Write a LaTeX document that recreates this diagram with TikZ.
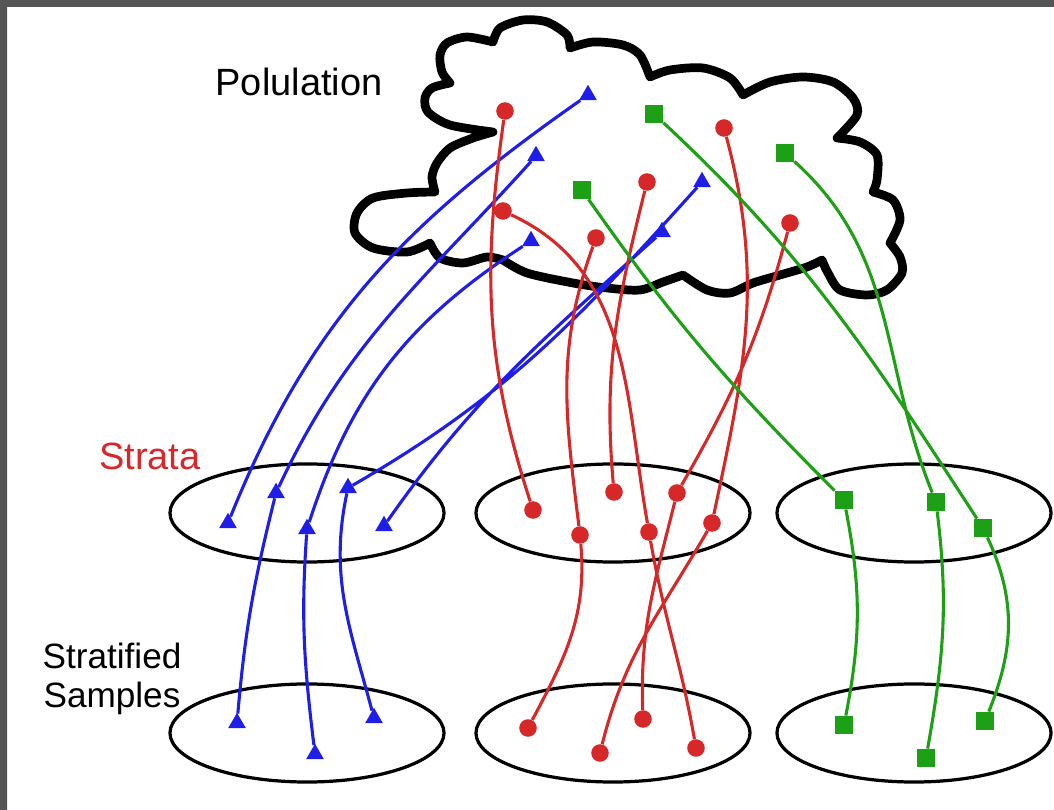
\documentclass[tikz,border=0pt]{standalone}
\usepackage{fontspec}
\setmainfont{Liberation Sans}
\usetikzlibrary{shapes.geometric}
\definecolor{tblue}{RGB}{30,30,232}
\definecolor{tred}{RGB}{214,40,40}
\definecolor{tgreen}{RGB}{30,160,22}
\definecolor{frame}{RGB}{85,85,85}
\begin{document}
\begin{tikzpicture}[x=0.025cm,y=0.025cm,font=\fontsize{27}{24}\selectfont,
		tri/.style={regular polygon,regular polygon sides=3,fill=tblue,inner sep=0pt,minimum size=14.5pt},
		dot/.style={circle,fill=tred,inner sep=0pt,minimum size=12.5pt},
		sq/.style={rectangle,fill=tgreen,inner sep=0pt,minimum size=13pt},
		bl/.style={tblue,line width=2.2pt},
		rl/.style={tred,line width=2.2pt},
		gl/.style={tgreen,line width=2.2pt},
		group/.style={ellipse,draw,line width=2.3pt,inner sep=0pt,minimum width=6.85cm,minimum height=2.45cm}]
		\useasboundingbox (0,0) rectangle (1054,810);
		\fill[frame] (0,803) rectangle (1054,810) (0,0) rectangle (7,810);
		\draw[line width=6.2pt,line join=round]
		plot[smooth] coordinates {(493,678) (450,685) (428,698) (425,712) (432,722) (450,727)}
		-- plot[smooth] coordinates {(450,727) (442,738) (440,755) (447,767) (467,773) (493,768)}
		-- plot[smooth] coordinates {(493,768) (500,782) (523,790) (547,788) (567,775) (570,762)}
		-- plot[smooth] coordinates {(570,762) (593,768) (623,765) (640,755) (650,733)}
		-- plot[smooth] coordinates {(650,733) (670,740) (703,742) (730,732) (743,715)}
		-- plot[smooth] coordinates {(743,715) (770,728) (803,733) (833,728) (853,712) (857,695) (837,672)}
		-- plot[smooth] coordinates {(837,672) (860,668) (877,655) (877,630) (873,618)}
		-- plot[smooth] coordinates {(873,618) (893,610) (900,590) (890,567)}
		-- plot[smooth] coordinates {(890,567) (900,553) (902,537) (887,520) (867,515) (840,520) (828,537) (822,550)}
		-- plot[smooth] coordinates {(822,550) (807,543) (780,535) (753,527) (730,517) (707,520) (683,535)}
		-- plot[smooth] coordinates {(683,535) (663,528) (640,520) (607,522) (573,527) (527,537) (503,550)}
		-- plot[smooth] coordinates {(503,550) (487,553) (463,547) (440,552) (430,567)}
		-- plot[smooth] coordinates {(430,567) (407,558) (373,562) (355,577) (357,597) (373,612) (407,617) (435,618)}
		-- plot[smooth] coordinates {(435,618) (432,633) (437,647) (450,662) (473,672) (493,678)}
		-- cycle;
		\node (pop) at (299,728) {Polulation};
		\node[text=tred] (strata) at (150,354) {Strata};
		\node[align=center,font=\fontsize{25}{28}\selectfont] (samples) at (112,131) {Stratified\\Samples};
		\node[group] (stL) at (307,297) {};
		\node[group] (stM) at (613,297) {};
		\node[group] (stR) at (914,297) {};
		\node[group] (smL) at (307,77) {};
		\node[group] (smM) at (613,77) {};
		\node[group] (smR) at (914,77) {};
		\node[tri] (pb1) at (588,715) {};
		\node[tri] (pb2) at (536,654) {};
		\node[tri] (pb3) at (702,628) {};
		\node[tri] (pb4) at (531,569) {};
		\node[tri] (pb5) at (662,578) {};
		\node[tri] (sb1) at (228,287) {};
		\node[tri] (sb2) at (276,317) {};
		\node[tri] (sb3) at (307,281) {};
		\node[tri] (sb4) at (348,322) {};
		\node[tri] (sb5) at (384,284) {};
		\node[tri] (mb1) at (237,87) {};
		\node[tri] (mb2) at (315,56) {};
		\node[tri] (mb3) at (374,92) {};
		\node[dot] (pr1) at (505,699) {};
		\node[dot] (pr2) at (724,682) {};
		\node[dot] (pr3) at (647,628) {};
		\node[dot] (pr4) at (503,599) {};
		\node[dot] (pr5) at (596,572) {};
		\node[dot] (pr6) at (790,587) {};
		\node[dot] (sr1) at (533,300) {};
		\node[dot] (sr2) at (614,318) {};
		\node[dot] (sr3) at (677,317) {};
		\node[dot] (sr4) at (580,275) {};
		\node[dot] (sr5) at (649,278) {};
		\node[dot] (sr6) at (712,287) {};
		\node[dot] (mr1) at (528,82) {};
		\node[dot] (mr2) at (643,91) {};
		\node[dot] (mr3) at (600,57) {};
		\node[dot] (mr4) at (696,62) {};
		\node[sq] (pg1) at (654,696) {};
		\node[sq] (pg2) at (785,657) {};
		\node[sq] (pg3) at (582,620) {};
		\node[sq] (sg1) at (844,310) {};
		\node[sq] (sg2) at (936,308) {};
		\node[sq] (sg3) at (983,282) {};
		\node[sq] (mg1) at (844,85) {};
		\node[sq] (mg2) at (926,52) {};
		\node[sq] (mg3) at (985,89) {};
		\draw[bl] (sb1) to[out=68,in=215] (pb1)
		(sb2) to[out=65,in=228] (pb2)
		(sb3) to[out=72,in=213] (pb4)
		(sb4) to[out=30,in=228] (pb3)
		(sb5) to[out=55,in=222] (pb5)
		(sb2) to[out=256,in=85] (mb1)
		(sb3) to[out=266,in=97] (mb2)
		(sb4) to[out=258,in=105] (mb3);
		\draw[rl] (pr1) to[out=262,in=108] (sr1)
		(pr4) to[out=335,in=100] (sr5)
		(pr5) to[out=250,in=97] (sr4)
		(pr3) to[out=256,in=95] (sr2)
		(pr2) to[out=285,in=78] (sr6)
		(pr6) to[out=255,in=60] (sr3)
		(sr4) to[out=275,in=62] (mr1)
		(sr5) to[out=280,in=100] (mr4)
		(sr3) to[out=256,in=92] (mr2)
		(sr6) to[out=240,in=76] (mr3);
		\draw[gl] (pg3) to[out=305,in=135] (sg1)
		(pg1) to[out=317,in=123] (sg3)
		(pg2) to[out=318,in=112] (sg2)
		(sg1) to[out=281,in=79] (mg1)
		(sg2) to[out=277,in=80] (mg2)
		(sg3) to[out=295,in=68] (mg3);
	\end{tikzpicture}
\end{document}
